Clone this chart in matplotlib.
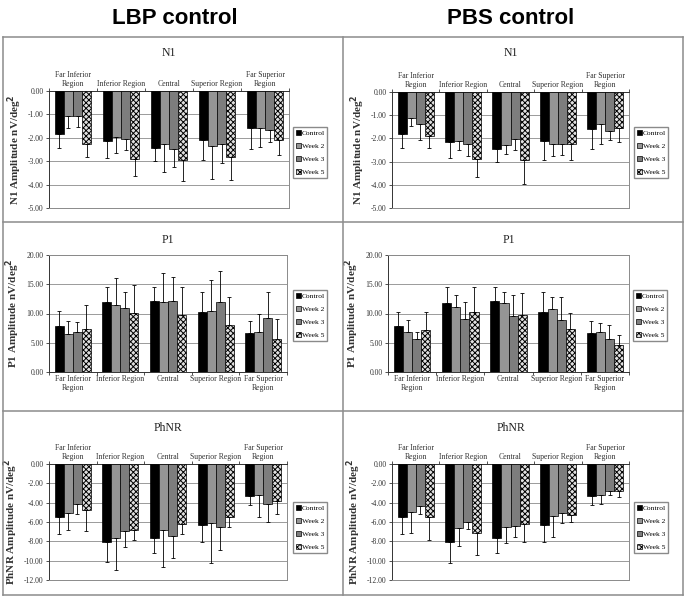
import matplotlib
matplotlib.use("Agg")
import matplotlib.pyplot as plt
from matplotlib.lines import Line2D
from matplotlib.ticker import FormatStrFormatter

plt.rcParams['font.family'] = ['Liberation Serif', 'DejaVu Serif']
plt.rcParams['hatch.linewidth'] = 0.7

regions = ["Far Inferior\nRegion", "Inferior Region", "Central",
           "Superior Region", "Far Superior\nRegion"]
series = ["Control", "Week 2", "Week 3", "Week 5"]

# means per series (Control, Week 2, Week 3, Week 5), one value per region
lbp_n1 = [[-1.84, -2.15, -2.45, -2.10, -1.60],
          [-1.08, -1.98, -2.28, -2.35, -1.58],
          [-1.08, -2.03, -2.50, -2.28, -1.68],
          [-2.27, -2.92, -2.97, -2.80, -2.10]]
lbp_n1_sd = [[0.59, 0.70, 0.55, 0.85, 0.88],
             [0.52, 0.67, 1.19, 1.42, 0.82],
             [0.44, 0.49, 0.75, 0.80, 0.49],
             [0.53, 0.70, 0.88, 1.00, 0.63]]

pbs_n1 = [[-1.82, -2.17, -2.45, -2.10, -1.60],
          [-1.14, -2.13, -2.28, -2.22, -1.38],
          [-1.39, -2.23, -2.03, -2.22, -1.67],
          [-1.90, -2.87, -2.92, -2.25, -1.55]]
pbs_n1_sd = [[0.58, 0.68, 0.55, 0.85, 0.87],
             [0.32, 0.35, 0.40, 0.53, 0.84],
             [0.66, 0.52, 0.49, 0.48, 0.38],
             [0.50, 0.78, 1.05, 0.67, 0.62]]

lbp_p1 = [[7.9, 11.9, 12.1, 10.3, 6.6],
          [6.5, 11.5, 11.9, 10.4, 6.8],
          [6.9, 10.9, 12.2, 12.0, 9.3],
          [7.4, 10.1, 9.7, 8.1, 5.7]]
lbp_p1_sd = [[2.5, 2.7, 2.4, 3.4, 2.2],
             [2.2, 4.5, 5.0, 5.4, 3.1],
             [1.7, 2.7, 4.1, 5.3, 4.4],
             [4.1, 4.8, 4.9, 4.8, 3.4]]

pbs_p1 = [[7.9, 11.8, 12.1, 10.3, 6.6],
          [6.9, 11.1, 11.8, 10.7, 6.8],
          [5.6, 9.1, 9.6, 8.9, 5.7],
          [7.2, 10.3, 9.8, 7.3, 4.7]]
pbs_p1_sd = [[2.4, 2.7, 2.4, 3.4, 2.2],
             [2.0, 2.1, 1.9, 2.1, 1.6],
             [1.2, 2.8, 3.5, 3.9, 2.3],
             [3.0, 4.3, 3.7, 2.8, 1.7]]

lbp_phnr = [[-5.5, -8.1, -7.7, -6.3, -3.3],
            [-5.1, -7.7, -6.8, -6.15, -3.25],
            [-4.1, -6.9, -7.45, -6.5, -4.1],
            [-4.8, -6.85, -6.2, -5.5, -3.85]]
lbp_phnr_sd = [[1.7, 2.0, 1.5, 1.8, 0.9],
               [1.7, 3.3, 3.9, 4.05, 2.25],
               [1.1, 1.7, 2.25, 2.4, 1.9],
               [2.1, 1.05, 1.0, 1.0, 1.35]]

pbs_phnr = [[-5.5, -8.1, -7.7, -6.3, -3.3],
            [-4.95, -6.6, -6.5, -5.4, -3.25],
            [-4.35, -6.0, -6.45, -5.1, -2.75],
            [-5.5, -7.15, -6.25, -5.3, -2.8]]
pbs_phnr_sd = [[1.7, 2.1, 1.5, 1.8, 0.9],
               [2.15, 1.9, 1.7, 2.15, 0.9],
               [0.85, 0.75, 1.1, 1.0, 0.5],
               [2.4, 2.3, 1.8, 0.7, 0.6]]

faces = ["black", "#959595", "#7d7d7d", "#e0e0e0"]
hatches = [None, None, None, "xxxxxx"]

W, H = 686, 600
fig = plt.figure(figsize=(6.86, 6.0), dpi=100)


def add_ax(x0, x1, y0, y1):
    return fig.add_axes([x0 / W, 1 - y1 / H, (x1 - x0) / W, (y1 - y0) / H])


def panel(ax, means, sds, title, ylab, ylim, step, top_axis, title_y, leg_xy):
    width = 0.19
    x = range(len(regions))
    for i, name in enumerate(series):
        pos = [k + (i - 1.5) * width for k in x]
        ax.bar(pos, means[i], width, color=faces[i], edgecolor="black",
               linewidth=0.5, hatch=hatches[i], zorder=3, label=name)
        lo = [s if m < 0 else 0 for m, s in zip(means[i], sds[i])]
        hi = [s if m >= 0 else 0 for m, s in zip(means[i], sds[i])]
        ax.errorbar(pos, means[i], yerr=[lo, hi], fmt="none", ecolor="black",
                    elinewidth=0.6, capsize=1.2, capthick=0.6, zorder=4)
    ax.set_xlim(-0.5, len(regions) - 0.5)
    ax.set_ylim(*ylim)
    ticks = []
    v = ylim[0]
    while v <= ylim[1] + 1e-9:
        ticks.append(v)
        v += step
    ax.set_yticks(ticks)
    ax.yaxis.set_major_formatter(FormatStrFormatter("%.2f"))
    ax.yaxis.grid(True, color="#8a8a8a", linewidth=0.6, zorder=0)
    ax.set_axisbelow(True)
    ax.tick_params(axis="y", labelsize=5.5, length=2.5, width=0.6, pad=1.5,
                   colors="#333333")
    ax.set_xticks(list(x))
    ax.set_xticklabels(regions, fontsize=5.6, color="#333333")
    ax.set_xticks([k - 0.5 for k in range(len(regions) + 1)], minor=True)
    ax.tick_params(axis="x", which="major", length=0, pad=2)
    ax.tick_params(axis="x", which="minor", length=2.5, width=0.6,
                   color="#333333")
    for s in ax.spines.values():
        s.set_color("#8a8a8a")
        s.set_linewidth(0.7)
    ax.spines["left"].set_color("#333333")
    if top_axis:
        ax.xaxis.set_ticks_position("top")
        ax.spines["top"].set_color("#333333")
    else:
        ax.spines["bottom"].set_color("#333333")
    ax.set_ylabel(ylab, fontsize=8, fontweight="bold", color="#333333",
                  labelpad=3)
    fig.text(ax.get_position().x0 + ax.get_position().width / 2,
             1 - title_y / H, title, fontsize=8.5, ha="center", va="center",
             color="#222222")
    ax.legend(loc="upper left", bbox_to_anchor=(leg_xy[0] / W, 1 - leg_xy[1] / H),
              bbox_transform=fig.transFigure, fontsize=5.4, frameon=True,
              fancybox=False, edgecolor="#8a8a8a", framealpha=1,
              handlelength=0.7, handleheight=0.7, handletextpad=0.1,
              labelspacing=0.9, borderpad=0.35, borderaxespad=0)


n1_lab = "N1 Amplitude nV/deg$^\\mathbf{2}$"
p1_lab = "P1 Amplitude nV/deg$^\\mathbf{2}$"
ph_lab = "PhNR Amplitude nV/deg$^\\mathbf{2}$"

ax = add_ax(49, 289, 91, 208)
panel(ax, lbp_n1, lbp_n1_sd, "N1", n1_lab, (-5, 0), 1.0, True, 53, (293, 127))
ax = add_ax(392, 629, 92, 208)
panel(ax, pbs_n1, pbs_n1_sd, "N1", n1_lab, (-5, 0), 1.0, True, 53, (634, 127))
ax = add_ax(49, 287, 255, 372)
panel(ax, lbp_p1, lbp_p1_sd, "P1", p1_lab, (0, 20), 5.0, False, 240, (293, 290))
ax = add_ax(388, 629, 255, 372)
panel(ax, pbs_p1, pbs_p1_sd, "P1", p1_lab, (0, 20), 5.0, False, 240, (633, 290))
ax = add_ax(49, 287, 464, 580)
panel(ax, lbp_phnr, lbp_phnr_sd, "PhNR", ph_lab, (-12, 0), 2.0, True, 428, (293, 502))
ax = add_ax(392, 629, 464, 580)
panel(ax, pbs_phnr, pbs_phnr_sd, "PhNR", ph_lab, (-12, 0), 2.0, True, 428, (634, 502))

# panel frames
for yy in [37, 222, 411, 595]:
    fig.add_artist(Line2D([3 / W, 683 / W], [1 - yy / H, 1 - yy / H],
                          transform=fig.transFigure, color="#8c8c8c", lw=1.1))
for xx in [3, 343, 683]:
    fig.add_artist(Line2D([xx / W, xx / W], [1 - 37 / H, 1 - 595 / H],
                          transform=fig.transFigure, color="#8c8c8c", lw=1.1))

fig.text(175 / W, 1 - 18 / H, "LBP control", fontsize=16, fontweight="bold",
         family="Liberation Sans", ha="center", va="center")
fig.text(511 / W, 1 - 18 / H, "PBS control", fontsize=16, fontweight="bold",
         family="Liberation Sans", ha="center", va="center")

fig.savefig("out.png", dpi=100)
